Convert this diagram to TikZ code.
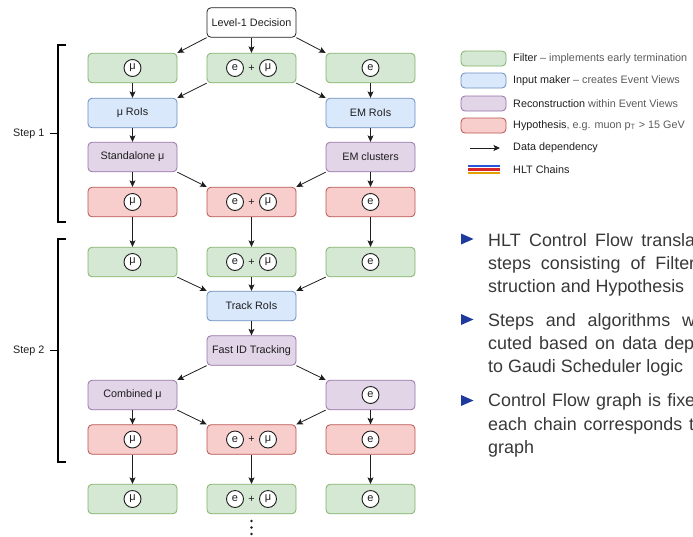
\documentclass[tikz,border=0pt]{standalone}
\usepackage{fontspec}
\setmainfont{Liberation Sans}
\usetikzlibrary{arrows.meta}

\definecolor{gfill}{HTML}{D5E8D4}\definecolor{gdraw}{HTML}{82B366}
\definecolor{bfill}{HTML}{DAE8FC}\definecolor{bdraw}{HTML}{6C8EBF}
\definecolor{pfill}{HTML}{E1D5E7}\definecolor{pdraw}{HTML}{9673A6}
\definecolor{rfill}{HTML}{F8CECC}\definecolor{rdraw}{HTML}{B85450}
\definecolor{ink}{HTML}{1E1E1E}
\definecolor{soft}{HTML}{5A5A5A}
\definecolor{bodytext}{HTML}{383838}
\definecolor{marker}{HTML}{1F3A9E}
\definecolor{chainblue}{HTML}{2A55D6}
\definecolor{chainred}{HTML}{D8262B}
\definecolor{chaingold}{HTML}{E0A100}

% tokens inside a box: one particle, or the pair e + mu
\newcommand\onetok[2]{\node[tok] (#1t) at (#1.center) {#2};}
\newcommand\pairtok[1]{%
  \node[tok] (#1e) at ([xshift=-16.5pt]#1.center) {e};
  \node[plus] (#1p) at (#1.center) {+};
  \node[tok] (#1m) at ([xshift=16.5pt]#1.center) {μ};}

\begin{document}
\begin{tikzpicture}[x=1pt,y=-1pt,
  every node/.style={font=\fontsize{10.8}{13}\selectfont, text=ink},
  box/.style={rounded corners=4pt, minimum width=89pt, minimum height=29.5pt,
              line width=0.8pt, inner sep=0pt},
  filt/.style={box, fill=gfill, draw=gdraw},
  inmk/.style={box, fill=bfill, draw=bdraw},
  reco/.style={box, fill=pfill, draw=pdraw},
  hypo/.style={box, fill=rfill, draw=rdraw},
  decision/.style={box, fill=white, draw=ink},
  tok/.style={circle, draw=ink, fill=white, line width=0.9pt, minimum size=17pt,
              inner sep=0pt, font=\fontsize{11}{13}\selectfont},
  plus/.style={inner sep=0pt},
  dep/.style={-{Stealth[length=6.5pt,width=6pt,inset=1.5pt]}, line width=0.8pt, draw=ink},
  lbl/.style={inner sep=0pt, anchor=west},
  body/.style={inner sep=0pt, anchor=base west, text=bodytext,
               font=\fontsize{17.9}{21}\selectfont},
  brace/.style={line width=1.1pt, draw=black},
]
\useasboundingbox (0,0) rectangle (693,536);

% ---------- flow graph ----------
\node[decision] (L1) at (251.5,22.5) {Level-1 Decision};

% step 1
\node[filt] (f1a) at (132.5,68) {};  \onetok{f1a}{μ}
\node[filt] (f1b) at (251.5,68) {};  \pairtok{f1b}
\node[filt] (f1c) at (370.5,68) {};  \onetok{f1c}{e}

\node[inmk] (i1a) at (132.5,113) {μ RoIs};
\node[inmk] (i1c) at (370.5,113) {EM RoIs};

\node[reco] (r1a) at (132.5,157) {Standalone μ};
\node[reco] (r1c) at (370.5,157) {EM clusters};

\node[hypo] (h1a) at (132.5,202) {};  \onetok{h1a}{μ}
\node[hypo] (h1b) at (251.5,202) {};  \pairtok{h1b}
\node[hypo] (h1c) at (370.5,202) {};  \onetok{h1c}{e}

% step 2
\node[filt] (f2a) at (132.5,262) {};  \onetok{f2a}{μ}
\node[filt] (f2b) at (251.5,262) {};  \pairtok{f2b}
\node[filt] (f2c) at (370.5,262) {};  \onetok{f2c}{e}

\node[inmk] (tr)  at (251.5,306) {Track RoIs};
\node[reco] (fid) at (251.5,350.5) {Fast ID Tracking};

\node[reco] (r2a) at (132.5,395) {Combined μ};
\node[reco] (r2c) at (370.5,395) {};  \onetok{r2c}{e}

\node[hypo] (h2a) at (132.5,439.5) {};  \onetok{h2a}{μ}
\node[hypo] (h2b) at (251.5,439.5) {};  \pairtok{h2b}
\node[hypo] (h2c) at (370.5,439.5) {};  \onetok{h2c}{e}

% step 3 filters
\node[filt] (f3a) at (132.5,499) {};  \onetok{f3a}{μ}
\node[filt] (f3b) at (251.5,499) {};  \pairtok{f3b}
\node[filt] (f3c) at (370.5,499) {};  \onetok{f3c}{e}

% continuation dots
\foreach \yy in {521,527.5,534} \fill[ink] (251.5,\yy) circle (1.3pt);

% data dependencies
\draw[dep] (L1.south west) -- (f1a.north east);
\draw[dep] (L1) -- (f1b);
\draw[dep] (L1.south east) -- (f1c.north west);

\draw[dep] (f1a) -- (i1a);
\draw[dep] (f1b.south west) -- (i1a.north east);
\draw[dep] (f1b.south east) -- (i1c.north west);
\draw[dep] (f1c) -- (i1c);

\draw[dep] (i1a) -- (r1a);
\draw[dep] (i1c) -- (r1c);

\draw[dep] (r1a) -- (h1a);
\draw[dep] (r1a.south east) -- (h1b.north west);
\draw[dep] (r1c.south west) -- (h1b.north east);
\draw[dep] (r1c) -- (h1c);

\draw[dep] (h1a) -- (f2a);
\draw[dep] (h1b) -- (f2b);
\draw[dep] (h1c) -- (f2c);

\draw[dep] (f2a.south east) -- (tr.north west);
\draw[dep] (f2b) -- (tr);
\draw[dep] (f2c.south west) -- (tr.north east);

\draw[dep] (tr) -- (fid);
\draw[dep] (fid.south west) -- (r2a.north east);
\draw[dep] (fid.south east) -- (r2c.north west);

\draw[dep] (r2a) -- (h2a);
\draw[dep] (r2a.south east) -- (h2b.north west);
\draw[dep] (r2c.south west) -- (h2b.north east);
\draw[dep] (r2c) -- (h2c);

\draw[dep] (h2a) -- (f3a);
\draw[dep] (h2b) -- (f3b);
\draw[dep] (h2c) -- (f3c);

% ---------- step brackets ----------
\draw[brace] (66,45) -- (58,45) -- (58,222) -- (66,222);
\draw[brace] (50,133.5) -- (58,133.5);
\node[inner sep=0pt, anchor=east] (s1) at (44.5,133.5) {Step 1};

\draw[brace] (66,239) -- (58,239) -- (58,462) -- (66,462);
\draw[brace] (50,350.5) -- (58,350.5);
\node[inner sep=0pt, anchor=east] (s2) at (44.5,350.5) {Step 2};

% ---------- legend ----------
\node[filt, minimum width=45pt, minimum height=15pt] (kf) at (483.5,58.5) {};
\node[lbl] (kft) at (513,58.5) {Filter \textcolor{soft}{– implements early termination}};
\node[inmk, minimum width=45pt, minimum height=15pt] (ki) at (483.5,80.5) {};
\node[lbl] (kit) at (513,80.5) {Input maker \textcolor{soft}{– creates Event Views}};
\node[reco, minimum width=45pt, minimum height=15pt] (kr) at (483.5,103.5) {};
\node[lbl] (krt) at (513,103.5) {Reconstruction \textcolor{soft}{within Event Views}};
\node[hypo, minimum width=45pt, minimum height=15pt] (kh) at (483.5,125.5) {};
\node[lbl] (kht) at (513,125.5) {Hypothesis\textcolor{soft}{, e.g. muon p\textsubscript{T} > 15 GeV}};

\coordinate (ka0) at (470,148);
\coordinate (ka1) at (500,148);
\draw[dep] (ka0) -- (ka1);
\node[lbl] (kat) at (513,147.5) {Data dependency};

\draw[chainblue, line width=2.2pt] (468,166) -- (500,166);
\draw[chainred,  line width=2.2pt] (468,169.5) -- (500,169.5);
\draw[chaingold, line width=2.2pt] (468,173) -- (500,173);
\node[lbl] (kct) at (513,170) {HLT Chains};

% ---------- bullet text ----------
\fill[marker] (461,233.5) -- (473.5,239) -- (461,244.5) -- cycle;
\node[body] (b1a) at (488,246)   {\makebox[207pt][s]{HLT Control Flow transla}};
\node[body] (b1b) at (488,269.3) {\makebox[207pt][s]{steps consisting of Filter}};
\node[body] (b1c) at (488,292.7) {struction and Hypothesis};

\fill[marker] (461,314) -- (473.5,319.5) -- (461,325) -- cycle;
\node[body] (b2a) at (488,326)   {\makebox[207pt][s]{Steps and algorithms w}};
\node[body] (b2b) at (488,349.3) {\makebox[206pt][s]{cuted based on data dep}};
\node[body] (b2c) at (488,372.7) {to Gaudi Scheduler logic};

\fill[marker] (461,395) -- (473.5,400.5) -- (461,406) -- cycle;
\node[body] (b3a) at (488,406.7) {\makebox[207pt][s]{Control Flow graph is fixe}};
\node[body] (b3b) at (488,430)   {\makebox[206pt][s]{each chain corresponds t}};
\node[body] (b3c) at (488,453.3) {graph};
\end{tikzpicture}
\end{document}
